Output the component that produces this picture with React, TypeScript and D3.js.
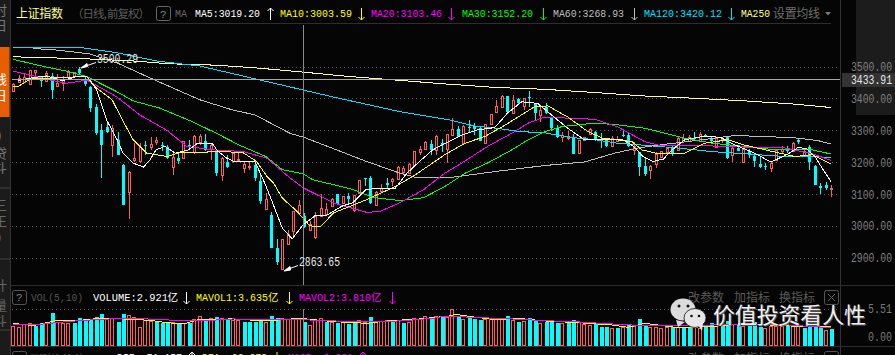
import React from "react";
import * as d3 from "d3";

// [open, close, high, low]
const candles: number[][] = [
[3424,3447,3449,3423],[3454,3465,3476,3453],[3454,3468,3478,3451],[3447,3491,3491,3447],[3484,3491,3491,3470],
[3473,3457,3473,3436],[3457,3480,3489,3454],[3473,3428,3480,3399],[3441,3451,3478,3441],[3451,3459,3472,3425],
[3468,3485,3491,3467],[3473,3483,3483,3465],[3494,3480,3500.29,3475],[3459,3447,3473,3439],[3436,3371,3439,3359],
[3373,3293,3383,3287],[3303,3256,3322,3151],[3311,3295,3329,3293],[3256,3310,3317,3219],[3272,3225,3296,3225],
[3193,3066,3197,3066],[3107,3170,3173,3024],[3209,3214,3261,3202],[3206,3249,3261,3199],[3256,3253,3269,3225],
[3248,3258,3280,3240],[3264,3272,3280,3256],[3256,3251,3264,3237],[3248,3214,3256,3212],[3185,3217,3230,3162],
[3216,3206,3230,3195],[3216,3268,3268,3214],[3256,3253,3272,3245],[3232,3285,3287,3228],[3264,3285,3289,3256],
[3268,3240,3290,3238],[3243,3256,3261,3209],[3233,3167,3240,3159],[3162,3214,3217,3144],[3201,3186,3225,3183],
[3206,3230,3233,3199],[3207,3211,3230,3201],[3183,3196,3201,3169],[3189,3191,3204,3176],[3193,3152,3204,3144],
[3141,3079,3162,3071],[3056,3087,3105,3053],[3037,2931,3045,2931],[2933,2889,2959,2878],[2868,2961,2961,2863.65],
[2945,2976,2990,2945],[2985,3049,3049,2969],[3042,3068,3084,3039],[3032,2997,3042,2995],[2990,3009,3016,2988],
[2967,3034,3044,2959],[3034,3058,3103,3034],[3040,3055,3075,3034],[3065,3086,3089,3063],[3102,3071,3103,3068],
[3073,3096,3096,3073],[3094,3086,3105,3073],[3050,3098,3099,3044],[3105,3146,3146,3105],[3152,3148,3152,3128],
[3152,3073,3157,3071],[3068,3108,3110,3068],[3110,3122,3133,3108],[3136,3131,3152,3118],[3141,3149,3152,3126],
[3148,3185,3190,3146],[3172,3183,3188,3165],[3169,3196,3199,3167],[3193,3237,3237,3191],[3233,3243,3251,3225],
[3243,3266,3268,3240],[3259,3240,3272,3225],[3240,3284,3287,3225],[3261,3256,3275,3233],[3243,3289,3289,3199],
[3287,3306,3339,3287],[3306,3282,3316,3279],[3261,3316,3319,3261],[3313,3308,3334,3292],[3316,3305,3324,3287],
[3310,3268,3316,3268],[3263,3321,3321,3261],[3321,3352,3352,3321],[3360,3378,3397,3360],[3374,3409,3412,3374],
[3409,3360,3410,3358],[3357,3397,3412,3355],[3400,3386,3402,3383],[3379,3404,3404,3365],[3405,3402,3425,3373],
[3383,3355,3386,3334],[3348,3365,3376,3329],[3376,3355,3386,3352],[3342,3310,3343,3298],[3310,3282,3319,3277],
[3282,3287,3296,3264],[3277,3282,3300,3272],[3282,3228,3289,3228],[3230,3272,3272,3228],[3272,3280,3282,3270],
[3289,3305,3308,3287],[3295,3272,3298,3268],[3274,3272,3293,3246],[3272,3251,3275,3248],[3253,3277,3285,3249],
[3269,3274,3283,3266],[3288,3286,3307,3280],[3286,3251,3295,3248],[3241,3253,3264,3225],[3232,3187,3232,3157],
[3191,3165,3218,3157],[3178,3191,3194,3149],[3196,3227,3232,3183],[3217,3236,3236,3215],[3234,3246,3246,3227],
[3249,3230,3251,3222],[3241,3277,3283,3239],[3272,3277,3291,3270],[3267,3280,3288,3264],[3277,3274,3295,3267],
[3267,3291,3296,3264],[3288,3283,3291,3280],[3277,3267,3283,3262],[3248,3277,3279,3248],[3275,3277,3279,3263],
[3280,3214,3282,3212],[3225,3245,3251,3201],[3245,3237,3256,3235],[3201,3243,3243,3199],[3235,3228,3243,3214],
[3222,3204,3230,3185],[3196,3186,3217,3183],[3191,3188,3199,3176],[3183,3199,3202,3172],[3207,3240,3243,3206],
[3235,3243,3251,3228],[3242,3237,3251,3230],[3235,3261,3264,3235],[3272,3264,3277,3259],[3225,3235,3240,3223],
[3248,3201,3256,3176],[3191,3129,3193,3129],[3126,3120,3136,3103],[3129,3122,3139,3115],[3118,3122,3131,3093],
];

// [candle index, price]
const ma250: number[][] = [[0,3532],[12.7,3526],[21.8,3519],[28.5,3510],[36.4,3506],[43.7,3498],[52.8,3484],[60,3472],[67.4,3462],[78.6,3447],[87.7,3436],[96.8,3430],[105.9,3420],[115,3409],[124,3402],[133,3394],[142,3384],[148.9,3373]];
const ma120: number[][] = [[0,3560],[12.7,3560],[18.8,3545],[26,3519],[34,3503],[45,3459],[58,3407],[70.4,3360],[79.5,3334],[84,3315],[88,3308],[92.6,3297],[96.8,3294],[98.7,3287],[102.8,3277],[106,3272],[110,3261],[113.8,3256],[121,3246],[127,3235],[133,3228],[139,3221],[149,3217]];
const ma60: number[][] = [[3.6,3558],[8,3553],[14,3541],[19,3512],[25,3465],[34,3397],[40,3365],[44,3350],[50.4,3292],[53,3279],[58,3246],[64.3,3204],[70.4,3167],[73.5,3153],[79.5,3153],[87.7,3172],[96.8,3191],[104,3202],[109.6,3230],[113.8,3246],[118,3256],[125.5,3272],[131.4,3285],[137,3282],[143,3277],[146.6,3269],[149,3258]];
const ma30: number[][] = [[0,3524],[4.9,3504],[9.7,3487],[13.4,3470],[18.8,3423],[21.8,3394],[26.7,3371],[32.8,3327],[37,3292],[41.3,3254],[46,3219],[49,3178],[52.8,3165],[54.6,3146],[58.3,3131],[62,3115],[65.5,3091],[70.4,3081],[74.7,3090],[78.6,3125],[82.3,3167],[86.4,3199],[90.8,3240],[93.8,3272],[96.8,3297],[99.9,3313],[104.7,3322],[109,3321],[115,3308],[118.7,3292],[122.3,3277],[127.3,3261],[133,3251],[139,3240],[145.5,3240],[149,3227]];
const ma20: number[][] = [[0,3487],[3,3475],[6.7,3459],[9.7,3449],[13.4,3459],[15.8,3436],[18.8,3407],[23,3350],[28,3301],[31.6,3251],[36.4,3240],[41.8,3235],[46.2,3214],[50.4,3152],[52.8,3121],[58.3,3074],[64.4,3044],[66.8,3047],[70.4,3074],[74.7,3115],[78.6,3167],[81.7,3199],[86.4,3251],[91.3,3297],[93.8,3324],[96.8,3343],[101.7,3339],[106,3336],[110,3313],[115,3266],[118,3253],[126,3253],[133,3249],[140.6,3246],[145.5,3228],[149,3207]];
const ma10: number[][] = [[0,3438],[1,3440],[3,3462],[5.4,3464],[9.7,3468],[13.4,3470],[15,3436],[18,3397],[19.4,3350],[21.8,3272],[24.3,3230],[28,3219],[30.4,3232],[34,3232],[37,3235],[41.8,3232],[44.3,3204],[46.2,3157],[47.4,3136],[49,3089],[51.7,3047],[54,3002],[55.9,2998],[58.3,3042],[61.3,3063],[64.4,3084],[66.2,3099],[69,3120],[72.8,3157],[76.4,3199],[78.6,3225],[82.3,3261],[85.9,3282],[89.6,3318],[95,3376],[97.4,3378],[101,3343],[104.7,3297],[107.3,3277],[112.7,3266],[114.5,3240],[117.5,3228],[122.3,3230],[126,3261],[130.2,3272],[133,3256],[137,3240],[142.4,3219],[145.5,3225],[149,3195]];
const ma5: number[][] = [[0.9,3457],[3,3465],[6,3472],[9,3457],[11.6,3470],[13.4,3470],[15.2,3428],[17,3334],[18.9,3272],[20,3230],[21.8,3199],[23.7,3186],[24.9,3209],[26,3240],[27.6,3251],[29.5,3230],[31.9,3240],[33.6,3261],[36.2,3261],[37.3,3235],[38.9,3214],[40.4,3202],[44,3204],[45.8,3136],[47,3084],[49,2995],[50.8,2961],[52.8,3005],[55,3034],[57,3034],[59.8,3063],[61.9,3075],[64.3,3117],[67.1,3118],[69.5,3118],[71.7,3167],[74,3204],[76.4,3240],[79.5,3268],[81.7,3287],[84.6,3303],[87.7,3310],[90,3355],[92.6,3391],[95.5,3386],[98,3350],[101,3308],[104,3272],[106,3272],[111,3272],[113,3251],[114.7,3219],[116.5,3204],[118.4,3211],[120,3240],[122.3,3272],[125.6,3282],[128.7,3280],[131.4,3256],[135,3230],[138,3202],[140.9,3225],[143,3248],[144.6,3243],[146.2,3214],[147.5,3178],[149,3139]];

const volumes: number[] = [
2.94,2.78,3.20,3.35,2.99,3.35,3.35,4.95,3.61,3.35,
3.35,3.45,4.12,3.97,4.02,4.33,4.74,4.12,4.12,3.56,
4.74,4.59,4.28,2.84,3.81,3.71,3.61,3.40,3.45,3.51,
3.25,3.45,3.45,3.97,4.43,4.02,4.12,4.33,4.23,3.92,
3.92,3.92,3.56,3.56,3.61,3.81,3.61,4.43,4.12,4.23,
3.97,4.23,4.12,3.56,3.04,3.81,4.23,3.56,3.61,3.45,
3.56,3.30,3.35,3.81,3.61,4.28,3.61,3.76,3.81,3.56,
3.81,3.45,3.61,4.23,4.02,4.43,4.28,4.43,4.38,4.38,
5.51,4.38,4.02,4.43,4.07,3.92,4.07,3.97,4.02,4.12,
4.48,3.87,3.56,3.71,4.12,3.81,3.40,3.61,3.61,3.45,
3.35,3.51,3.81,3.61,3.25,3.09,3.35,2.84,2.84,2.68,
2.68,2.84,3.25,2.89,4.02,3.09,2.84,2.73,2.68,2.73,
2.73,2.78,2.84,2.84,2.73,2.68,2.84,3.35,2.99,3.09,
3.71,3.25,3.20,2.99,2.99,3.51,2.84,2.68,2.94,2.94,
2.94,2.94,2.99,2.94,2.63,3.14,2.94,2.68,2.32,2.47,
];
const volumeUp = "rrrrccrcrr" + "rccccccrrc" + "crrrrrcccr" + "crcrrcrcrc" + "rrccccrccr" + "rrrcrrrcrc" + "rccrrcrrrc" + "rcrrrrcrcr" + "rcrcccrrrr" + "crcrccrccc" + "rccrrrcccr" + "crcrccrrrr" + "crccrrccrc" + "crcrcccrrr" + "rcrrccccrc";

const maVol1: number[][] = [[0,3.35],[3.6,2.99],[7.9,3.76],[11.5,3.76],[15.8,4.12],[18.8,4.07],[24.9,3.81],[27.9,3.45],[31,3.25],[34,3.97],[40,4.02],[46.1,3.71],[52.2,4.12],[58.3,3.61],[64.4,3.35],[68.6,3.76],[73.5,3.97],[79.5,4.48],[80.5,4.74],[84.7,4.23],[87.7,3.92],[92,4.12],[96.8,3.71],[102.9,3.45],[109,3.09],[112,2.73],[115,3.35],[121,2.68],[127.2,2.84],[133.3,3.35],[139.4,2.99],[145.4,2.84],[148.9,2.78]];
const maVol2: number[][] = [[0,3.20],[3.6,3.09],[9.7,3.61],[15.8,3.97],[21.9,4.12],[27.9,3.87],[34,3.71],[40,4.02],[46.1,3.87],[52.2,3.92],[58.3,3.71],[64.4,3.61],[70.4,3.71],[76.5,4.12],[78.6,4.48],[84.7,4.23],[90.8,4.02],[96.8,3.76],[102.9,3.56],[109,3.25],[115,2.99],[121,2.99],[127.2,3.09],[133.3,3.25],[139.4,3.20],[145.4,2.84],[148.9,2.68]];

const priceTicks = [3500, 3400, 3300, 3200, 3100, 3000, 2900];

const RED = "#ff5c5c";
const CYAN = "#00ffff";
const MONO = "'Liberation Mono','Noto Sans CJK SC',monospace";
const CJK = "'Noto Sans CJK SC',sans-serif";

const x = d3.scaleLinear().domain([0, 149]).range([13.3, 831.3]);
const y = d3.scaleLinear().domain([2900, 3500]).range([258.3, 67]);
const v = d3.scaleLinear().domain([0, 5.51]).range([345, 309.3]);

const priceLine = d3.line<number[]>().x((d) => x(d[0])).y((d) => y(d[1]));
const volLine = d3.line<number[]>().x((d) => x(d[0])).y((d) => v(d[1]));

const maLines: [number[][], string][] = [
  [ma250, "#ffff99"], [ma120, "#00e0ff"], [ma60, "#bdbdbd"], [ma30, "#00ff00"],
  [ma20, "#ff00ff"], [ma10, "#ffff00"], [ma5, "#ffffff"],
];

function Arrow({ cx, cy, up, color }: { cx: number; cy: number; up: boolean; color: string }) {
  const tip = up ? cy - 6 : cy + 6;
  const s = up ? 3 : -3;
  return (
    <path d={`M${cx},${cy - 6}V${cy + 6}M${cx - 3},${tip + s}L${cx},${tip}L${cx + 3},${tip + s}`} fill="none" stroke={color} strokeWidth={1} />
  );
}

function Label({ t, px, py, w, color }: { t: string; px: number; py: number; w: number; color: string }) {
  return <text x={px} y={py} fill={color} fontFamily={MONO} fontSize={11.5} textLength={w} lengthAdjust="spacingAndGlyphs">{t}</text>;
}

const sideLabels: [string, number, string][] = [
  ["时", 15, "#777"], ["日", 30, "#777"], ["线", 84, "#fff"], ["日", 100, "#fff"],
  ["0", 141, "#777"], ["贷", 158, "#777"], ["斗", 172, "#777"], ["三", 210, "#666"],
  ["王", 226, "#666"], ["9", 243, "#666"], ["计", 290, "#666"], ["量", 310, "#666"], ["斗", 325, "#666"],
];

export default function App() {
  return (
    <svg width={895} height={355} style={{ position: "fixed", left: 0, top: 0, display: "block", background: "#050505" }}>
      <defs>
        <clipPath id="side"><rect x={0} y={0} width={9} height={355} /></clipPath>
        <clipPath id="page"><rect x={0} y={0} width={895} height={355} /></clipPath>
      </defs>

      {/* side bar */}
      <rect x={0} y={0} width={10} height={355} fill="#1b1b1b" />
      <rect x={0} y={47} width={9.5} height={70} fill="#e85d00" />
      <line x1={10.5} y1={0} x2={10.5} y2={355} stroke="#333" />
      {[188, 259, 330].map((s) => <line key={s} x1={0} y1={s} x2={10} y2={s} stroke="#444" />)}
      <g clipPath="url(#side)">
        {sideLabels.map(([t, py, c], i) => (
          <text key={i} x={-6} y={py} fill={c} fontFamily={CJK} fontSize={13}>{t}</text>
        ))}
      </g>

      {/* right panels */}
      <rect x={856} y={0} width={39} height={115} fill="#1c1c1c" />
      <line x1={840.5} y1={0} x2={840.5} y2={355} stroke="#333" />
      <line x1={16} y1={23.5} x2={831} y2={23.5} stroke="#2e2e2e" />
      <line x1={11} y1={285.5} x2={895} y2={285.5} stroke="#2e2e2e" />
      <line x1={11} y1={346.5} x2={895} y2={346.5} stroke="#2e2e2e" />

      {/* grid */}
      {priceTicks.map((p) => (
        <line key={p} x1={12} y1={y(p)} x2={838} y2={y(p)} stroke="#555" strokeDasharray="1 3" shapeRendering="crispEdges" />
      ))}
      <line x1={12} y1={v(5.51)} x2={838} y2={v(5.51)} stroke="#555" strokeDasharray="1 3" shapeRendering="crispEdges" />

      {/* candles */}
      <g shapeRendering="crispEdges">
        {candles.map(([o, c, h, l], i) => {
          const up = c >= o;
          const cx = Math.round(x(i));
          const color = up ? RED : CYAN;
          const top = Math.round(y(Math.max(o, c)));
          const bot = Math.round(y(Math.min(o, c)));
          return (
            <g key={i}>
              <line x1={cx + 0.5} x2={cx + 0.5} y1={y(h)} y2={y(l)} stroke={color} />
              {up ? (
                <rect x={cx - 0.5} y={top + 0.5} width={2} height={Math.max(bot - top, 1)} fill="#050505" stroke={color} />
              ) : (
                <rect x={cx - 1} y={top} width={3} height={Math.max(bot - top, 1)} fill={color} />
              )}
            </g>
          );
        })}
      </g>

      {/* moving averages */}
      <g shapeRendering="crispEdges">
        {maLines.map(([data, color], i) => (
          <path key={i} d={priceLine(data) as string} fill="none" stroke={color} strokeWidth={1} />
        ))}
      </g>

      {/* volume */}
      <g shapeRendering="crispEdges">
        {volumes.map((val, i) => {
          const cx = Math.round(x(i));
          const top = Math.round(v(val));
          return volumeUp[i] === "r" ? (
            <rect key={i} x={cx - 1.5} y={top + 0.5} width={3} height={345 - top} fill="#050505" stroke={RED} />
          ) : (
            <rect key={i} x={cx - 1} y={top} width={4} height={345.5 - top} fill={CYAN} />
          );
        })}
        <path d={volLine(maVol1) as string} fill="none" stroke="#ffff00" strokeWidth={1} />
        <path d={volLine(maVol2) as string} fill="none" stroke="#ff00ff" strokeWidth={1} />
      </g>

      {/* crosshair */}
      <line x1={12} y1={79.5} x2={840} y2={79.5} stroke="#a8a8a8" />
      <line x1={303.5} y1={25} x2={303.5} y2={285} stroke="#8a8a8a" />
      <line x1={303.5} y1={309} x2={303.5} y2={345} stroke="#8a8a8a" />

      {/* extreme labels */}
      <text x={97} y={63} fill="#e8e8e8" fontFamily={MONO} fontSize={12} textLength={41} lengthAdjust="spacingAndGlyphs">3500.29</text>
      <path d="M96,62.5L83,67" stroke="#fff" fill="none" />
      <path d="M81,68L87,63.5L87.5,66.5Z" fill="#fff" stroke="#fff" />
      <text x={299} y={266} fill="#e8e8e8" fontFamily={MONO} fontSize={12} textLength={41} lengthAdjust="spacingAndGlyphs">2863.65</text>
      <path d="M298,265.5L286,270" stroke="#fff" fill="none" />
      <path d="M284,271L290,266.5L290.5,270Z" fill="#fff" stroke="#fff" />

      {/* price axis */}
      {priceTicks.map((p) => (
        <text key={p} x={851} y={y(p) + 4} fill="#808080" fontFamily={MONO} fontSize={12} textLength={41} lengthAdjust="spacingAndGlyphs">{p.toFixed(2)}</text>
      ))}
      <rect x={842} y={73} width={53} height={14} fill="#333" />
      <text x={851} y={84} fill="#e8e8e8" fontFamily={MONO} fontSize={12} textLength={41} lengthAdjust="spacingAndGlyphs">3433.91</text>
      <text x={868} y={313} fill="#777" fontFamily={MONO} fontSize={12} textLength={24} lengthAdjust="spacingAndGlyphs">5.51</text>
      <text x={868} y={341} fill="#777" fontFamily={MONO} fontSize={12} textLength={24} lengthAdjust="spacingAndGlyphs">0.00</text>

      {/* top legend */}
      <text x={16} y={18} fill="#ffff88" fontFamily={CJK} fontSize={12} textLength={47}>上证指数</text>
      <text x={72} y={18} fill="#5e5e5e" fontFamily={CJK} fontSize={11.5} textLength={78}>（日线, 前复权）</text>
      <rect x={156.5} y={6.5} width={14} height={14} rx={2} fill="none" stroke="#666" />
      <text x={160} y={18} fill="#888" fontFamily={MONO} fontSize={11}>?</text>
      <Label t="MA" px={175} py={17} w={12} color="#666" />
      <Label t="MA5:3019.20" px={195} py={17} w={65} color="#ffffff" />
      <Arrow cx={270.5} cy={14} up color="#ffffff" />
      <Label t="MA10:3003.59" px={280} py={17} w={72} color="#ffff00" />
      <Arrow cx={361.5} cy={14} up={false} color="#ffff00" />
      <Label t="MA20:3103.46" px={371} py={17} w={71} color="#ff00ff" />
      <Arrow cx={451.5} cy={14} up={false} color="#ff00ff" />
      <Label t="MA30:3152.20" px={462} py={17} w={71} color="#00ff00" />
      <Arrow cx={543.5} cy={14} up={false} color="#00ff00" />
      <Label t="MA60:3268.93" px={553} py={17} w={71} color="#bdbdbd" />
      <Arrow cx={634.5} cy={14} up={false} color="#bdbdbd" />
      <Label t="MA120:3420.12" px={644} py={17} w={78} color="#00e0ff" />
      <Arrow cx={731.5} cy={14} up={false} color="#00e0ff" />
      <Label t="MA250" px={741} py={17} w={29} color="#ffff99" />
      <text x={773} y={18} fill="#6e6e6e" fontFamily={CJK} fontSize={12} textLength={47}>设置均线</text>
      <path d="M825,12H831L828,15.5Z" fill="#777" />

      {/* volume legend */}
      <rect x={12.5} y={290.5} width={14} height={14} rx={2} fill="none" stroke="#555" />
      <text x={16} y={301} fill="#888" fontFamily={MONO} fontSize={11}>?</text>
      <Label t="VOL(5,10)" px={31} py={301} w={52} color="#555" />
      <Label t="VOLUME:2.921" px={93} py={301} w={75} color="#ffffff" />
      <text x={167.5} y={301} fill="#fff" fontFamily={CJK} fontSize={10.5}>亿</text>
      <Arrow cx={186.5} cy={298} up={false} color="#ffffff" />
      <Label t="MAVOL1:3.635" px={196} py={301} w={72} color="#ffff00" />
      <text x={268} y={301} fill="#ffff00" fontFamily={CJK} fontSize={10.5}>亿</text>
      <Arrow cx={289.5} cy={298} up={false} color="#ffff00" />
      <Label t="MAVOL2:3.810" px={299} py={301} w={72} color="#ff00ff" />
      <text x={371} y={301} fill="#ff00ff" fontFamily={CJK} fontSize={10.5}>亿</text>
      <Arrow cx={392.5} cy={298} up={false} color="#ff00ff" />
      <text x={688} y={302} fill="#5a5a5a" fontFamily={CJK} fontSize={12} textLength={36}>改参数</text>
      <text x={734} y={302} fill="#5a5a5a" fontFamily={CJK} fontSize={12} textLength={36}>加指标</text>
      <text x={779} y={302} fill="#5a5a5a" fontFamily={CJK} fontSize={12} textLength={36}>换指标</text>
      <rect x={824.5} y={290.5} width={14} height={14} rx={2} fill="none" stroke="#555" />
      <path d="M828,294L835,301M835,294L828,301" stroke="#666" />

      {/* next panel, cut by the page edge */}
      <g clipPath="url(#page)">
        <rect x={12.5} y={351.5} width={14} height={14} rx={2} fill="none" stroke="#555" />
        <Label t="MACD(12,26,9)" px={31} py={361} w={52} color="#555" />
        <Label t="DIF:-71.157" px={117} py={361} w={65} color="#ffffff" />
        <Arrow cx={192} cy={358} up color="#ffffff" />
        <Label t="DEA:-66.678" px={202} py={361} w={65} color="#ffff00" />
        <Arrow cx={277} cy={358} up={false} color="#ffff00" />
        <Label t="MACD:-9.091" px={288} py={361} w={65} color="#ff00ff" />
        <Arrow cx={363} cy={358} up color="#ff00ff" />
        <text x={688} y={363} fill="#5a5a5a" fontFamily={CJK} fontSize={12} textLength={36}>改参数</text>
        <text x={734} y={363} fill="#5a5a5a" fontFamily={CJK} fontSize={12} textLength={36}>加指标</text>
        <text x={779} y={363} fill="#5a5a5a" fontFamily={CJK} fontSize={12} textLength={36}>换指标</text>
        <rect x={824.5} y={351.5} width={14} height={14} rx={2} fill="none" stroke="#555" />
      </g>

      {/* watermark */}
      <g>
        <path d="M676,320L678,327L685,322Z" fill="#dcdcdc" />
        <ellipse cx={683} cy={309.5} rx={12.5} ry={11} fill="#dcdcdc" />
        <circle cx={679} cy={306} r={1.5} fill="#111" />
        <circle cx={688} cy={306} r={1.5} fill="#111" />
        <ellipse cx={695} cy={318} rx={11} ry={9.5} fill="#e6e6e6" stroke="#111" strokeWidth={0.8} />
        <path d="M698,325L702,331L703,323Z" fill="#e6e6e6" />
        <circle cx={691.5} cy={316} r={1.3} fill="#111" />
        <circle cx={699} cy={316} r={1.3} fill="#111" />
        <text x={714} y={324} fill="#555" fontFamily={CJK} fontSize={22} textLength={153}>价值投资看人性</text>
        <text x={713} y={323} fill="#f0f0f0" fontFamily={CJK} fontSize={22} textLength={153}>价值投资看人性</text>
      </g>
    </svg>
  );
}
